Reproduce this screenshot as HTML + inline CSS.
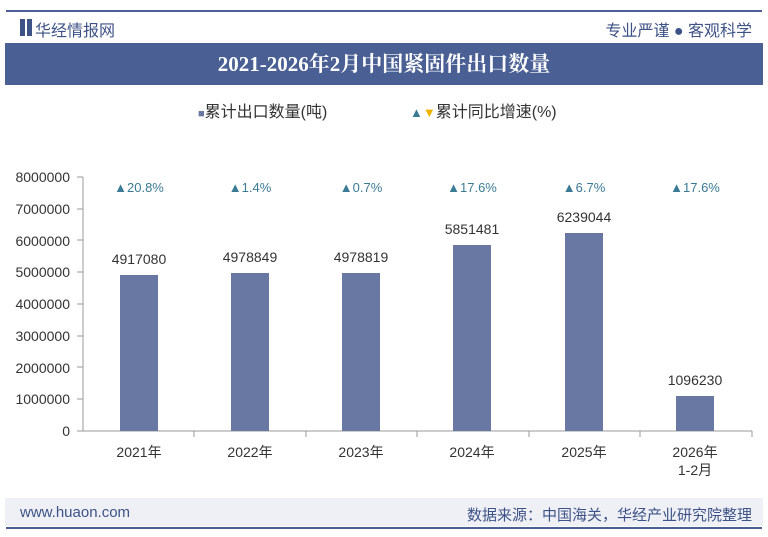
<!DOCTYPE html><html><head><meta charset="utf-8"><style>
body{margin:0;width:768px;height:537px;background:#fff;font-family:"Liberation Sans","Noto Sans CJK SC",sans-serif;overflow:hidden;position:relative}
.a{position:absolute}
</style></head><body>
<div class="a" style="left:6px;top:10px;width:756px;height:2px;background:#4a5f94"></div>
<div class="a" style="left:20px;top:19px;width:5px;height:17px;background:#3d5287"></div>
<div class="a" style="left:27px;top:19px;width:5px;height:17px;background:#3d5287"></div>
<div class="a" style="left:35px;top:17px;font-size:16px;color:#3d5287">华经情报网</div>
<div class="a" style="right:16px;top:17px;font-size:16px;color:#3d5287">专业严谨 ● 客观科学</div>
<div class="a" style="left:5px;top:43px;width:758px;height:42px;background:#4a5f94;color:#fff;font-size:21px;font-weight:bold;text-align:center;line-height:42px;font-family:'Liberation Serif','Noto Serif CJK SC',serif">2021-2026年2月中国紧固件出口数量</div>
<div class="a" style="left:198px;top:98px;font-size:16px;color:#333"><span style="color:#6878a3;font-size:11px">■</span>累计出口数量(吨)</div>
<div class="a" style="left:410px;top:98px;font-size:16px;color:#333"><span style="color:#3a7a94;font-size:13px">▲</span><span style="color:#f0b400;font-size:13px">▼</span>累计同比增速(%)</div>
<svg class="a" style="left:0;top:0" width="768" height="537" font-family="Liberation Sans, sans-serif">
<g font-size="14" fill="#333" text-anchor="end">
<text x="70" y="436">0</text><text x="70" y="404">1000000</text><text x="70" y="373">2000000</text><text x="70" y="341">3000000</text><text x="70" y="309">4000000</text><text x="70" y="277">5000000</text><text x="70" y="246">6000000</text><text x="70" y="214">7000000</text><text x="70" y="182">8000000</text>
</g>
<g stroke="#999" stroke-width="1"><line x1="83" y1="177" x2="83" y2="431"/><line x1="77" y1="431" x2="752" y2="431"/>
<line x1="77" y1="177" x2="83" y2="177"/><line x1="77" y1="209" x2="83" y2="209"/><line x1="77" y1="240" x2="83" y2="240"/><line x1="77" y1="272" x2="83" y2="272"/><line x1="77" y1="304" x2="83" y2="304"/><line x1="77" y1="336" x2="83" y2="336"/><line x1="77" y1="367" x2="83" y2="367"/><line x1="77" y1="399" x2="83" y2="399"/>
<line x1="194" y1="431" x2="194" y2="437"/><line x1="306" y1="431" x2="306" y2="437"/><line x1="417" y1="431" x2="417" y2="437"/><line x1="529" y1="431" x2="529" y2="437"/><line x1="640" y1="431" x2="640" y2="437"/><line x1="752" y1="431" x2="752" y2="437"/></g>
<g fill="#6878a3">
<rect x="120" y="275" width="38" height="156"/><rect x="231" y="273" width="38" height="158"/><rect x="342" y="273" width="38" height="158"/><rect x="453" y="245" width="38" height="186"/><rect x="565" y="233" width="38" height="198"/><rect x="676" y="396" width="38" height="35"/>
</g>
<g font-size="14" fill="#333" text-anchor="middle">
<text x="139" y="264">4917080</text><text x="250" y="262">4978849</text><text x="361" y="262">4978819</text><text x="472" y="234">5851481</text><text x="584" y="222">6239044</text><text x="695" y="385">1096230</text>
<text x="139" y="457">2021年</text><text x="250" y="457">2022年</text><text x="361" y="457">2023年</text><text x="472" y="457">2024年</text><text x="584" y="457">2025年</text><text x="695" y="457">2026年</text><text x="695" y="475">1-2月</text>
</g>
<g font-size="13" fill="#3a7a94" text-anchor="middle">
<text x="139" y="192">▲20.8%</text><text x="250" y="192">▲1.4%</text><text x="361" y="192">▲0.7%</text><text x="472" y="192">▲17.6%</text><text x="584" y="192">▲6.7%</text><text x="695" y="192">▲17.6%</text>
</g>
</svg>
<div class="a" style="left:5px;top:498px;width:758px;height:28px;background:#eef0f6"></div>
<div class="a" style="left:20px;top:504px;font-size:15px;color:#3d5287">www.huaon.com</div>
<div class="a" style="right:16px;top:504px;font-size:15px;color:#3d5287">数据来源：中国海关，华经产业研究院整理</div>
<div class="a" style="left:6px;top:527px;width:756px;height:2px;background:#4a5f94"></div>
</body></html>
